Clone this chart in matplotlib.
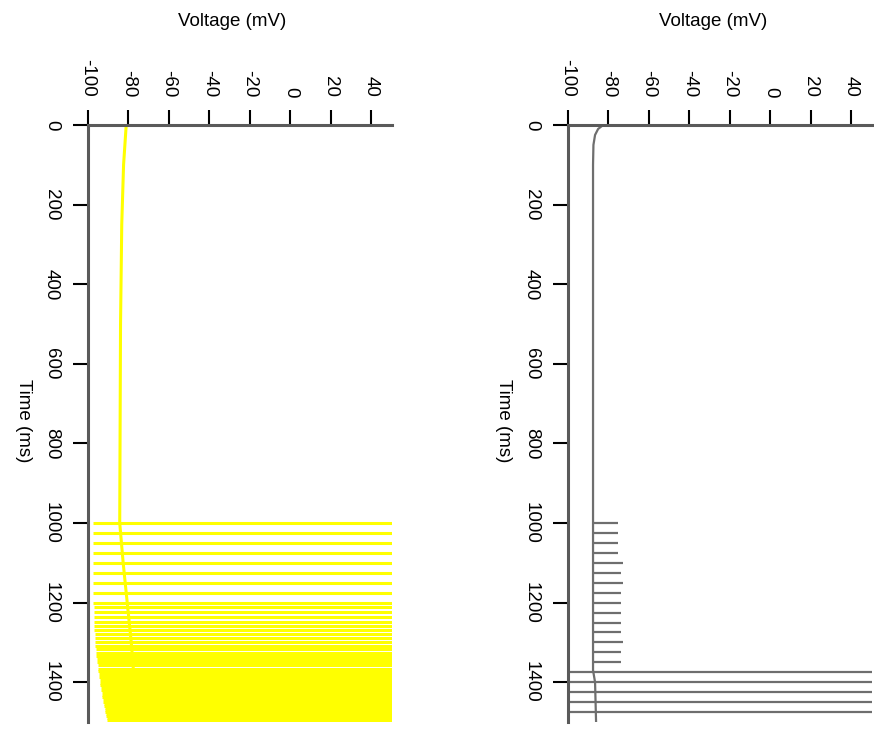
import matplotlib
matplotlib.use("Agg")
import matplotlib.pyplot as plt

plt.rcParams['font.family'] = ['Liberation Sans', 'DejaVu Sans']

# left panel (yellow): resting trace, then spikes from 1000 ms
rest_t_left = [0, 100, 250, 500, 1000, 1100, 1200, 1300, 1400, 1500]
rest_v_left = [-81, -82.3, -83.2, -83.8, -84.2, -82.5, -80.5, -78.5, -77, -75.5]
spike_t_left = [1000, 1025, 1050, 1075, 1101, 1126, 1151, 1176, 1201, 1212,
                1224, 1236, 1248, 1259, 1270, 1280, 1290, 1299, 1308, 1317,
                1326, 1334, 1342, 1350, 1358, 1366, 1373, 1380, 1387, 1394,
                1401, 1407, 1413, 1419, 1425, 1431, 1437, 1443, 1449, 1455,
                1460, 1465, 1470, 1475, 1480, 1485, 1490, 1495]
trough_left = [-97.5, -97.5, -97.5, -97.4, -97.4, -97.3, -97.3, -97.2, -97.2, -97.1,
               -97.0, -97.0, -96.9, -96.8, -96.7, -96.6, -96.5, -96.3, -96.2, -96.0,
               -95.9, -95.7, -95.5, -95.3, -95.1, -94.9, -94.7, -94.5, -94.3, -94.1,
               -93.9, -93.7, -93.5, -93.3, -93.1, -92.9, -92.7, -92.5, -92.3, -92.1,
               -91.9, -91.7, -91.5, -91.3, -91.1, -90.9, -90.7, -90.5]
spike_peak = 60

# right panel (grey): resting trace, small events, then a few spikes
rest_t_right = [0, 10, 25, 50, 100, 1000, 1370, 1400, 1500]
rest_v_right = [-82.5, -85, -86.5, -87.3, -87.5, -87.5, -87.5, -86.5, -86]
event_t_right = [1000, 1025, 1050, 1075, 1100, 1125, 1150, 1175, 1200, 1225,
                 1250, 1275, 1300, 1325, 1350]
event_peak_right = [-75.2, -75.2, -75.2, -75.0, -72.7, -73.9, -72.7, -73.9, -73.9, -73.9,
                    -73.9, -73.9, -72.7, -73.9, -73.9]
spike_t_right = [1375, 1400, 1425, 1450, 1475]
trough_right = -102

volt_ticks = [-100, -80, -60, -40, -20, 0, 20, 40]
time_ticks = [0, 200, 400, 600, 800, 1000, 1200, 1400]

W, H = 874, 730
fig = plt.figure(figsize=(W / 100, H / 100), dpi=100)


def make_axes(x0):
    ax = fig.add_axes([x0 / W, 1 - 722 / H, 304 / W, 597 / H])
    ax.set_xlim(-100, 50)
    ax.set_ylim(1500, 0)
    ax.xaxis.tick_top()
    ax.spines['bottom'].set_visible(False)
    ax.spines['right'].set_visible(False)
    for s in ['top', 'left']:
        ax.spines[s].set_color('#5a5a5a')
        ax.spines[s].set_linewidth(2.2)
        ax.spines[s].set_zorder(5)
    ax.set_xticks(volt_ticks)
    ax.set_yticks(time_ticks)
    ax.tick_params(axis='both', length=11, width=1.5, color='black',
                   labelsize=13.5, pad=9)
    ax.tick_params(axis='x', labelrotation=-90)
    ax.tick_params(axis='y', labelrotation=-90)
    ax.set_xticklabels([str(v) for v in volt_ticks])
    ax.set_yticklabels([str(v) for v in time_ticks], va='center')
    return ax


axL = make_axes(87.7)
axL.plot(rest_v_left, rest_t_left, color='#ffff00', lw=2.2)
axL.hlines(spike_t_left, trough_left, spike_peak, color='#ffff00', lw=2.2)

axR = make_axes(567.7)
axR.plot(rest_v_right, rest_t_right, color='#6e6e6e', lw=1.6)
axR.hlines(event_t_right, [-87.5] * len(event_t_right), event_peak_right,
           color='#6e6e6e', lw=1.6)
axR.hlines(spike_t_right, trough_right, spike_peak, color='#6e6e6e', lw=1.6)

for xc, xt in [(232.5, 23.5), (713, 503.7)]:
    fig.text(xc / W, 1 - 22 / H, 'Voltage (mV)', ha='center', va='center', fontsize=13.5)
    fig.text(xt / W, 1 - 421 / H, 'Time (ms)', ha='center', va='center',
             rotation=-90, fontsize=13.5)

fig.savefig('out.png', dpi=100)
